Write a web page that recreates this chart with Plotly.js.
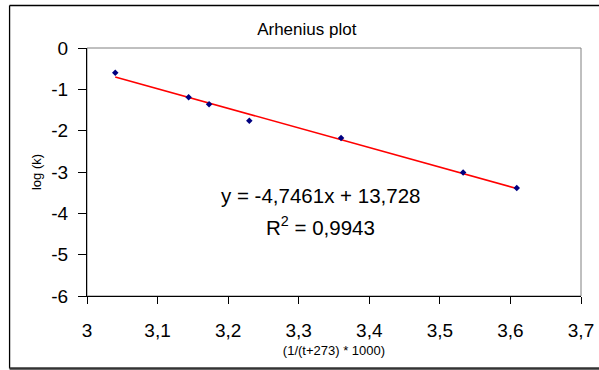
<!DOCTYPE html>
<html>
<head>
<meta charset="utf-8">
<script src="https://cdn.plot.ly/plotly-3.0.1.min.js"></script>
<style>
  html, body { margin: 0; padding: 0; background: #ffffff; }
  #chart { width: 599px; height: 370px; }
</style>
</head>
<body>
<div id="chart"></div>
<script>
// Measured data (x = 1/(t+273)*1000, y = log(k))
const invTemp = [3.040, 3.144, 3.173, 3.230, 3.360, 3.533, 3.609];
const logK    = [-0.60, -1.19, -1.36, -1.76, -2.18, -3.01, -3.39];

// Trendline end points as drawn in the chart
const fitX = [3.040, 3.609];
const fitY = [-0.70, -3.40];

// Tick labels
const xTickVals = [3, 3.1, 3.2, 3.3, 3.4, 3.5, 3.6, 3.7];
const xTickText = ['3', '3,1', '3,2', '3,3', '3,4', '3,5', '3,6', '3,7'];
const yTickVals = [0, -1, -2, -3, -4, -5, -6];
const yTickText = ['0', '-1', '-2', '-3', '-4', '-5', '-6'];

const chartTitle = 'Arhenius plot';
const xTitle = '(1/(t+273) * 1000)';
const yTitle = 'log (k)';
const eqLine1 = 'y = -4,7461x + 13,728';
const eqLine2 = 'R<sup>2</sup> = 0,9943';

const FONT = 'Arial, "Liberation Sans", sans-serif';

const traces = [
  {
    x: fitX, y: fitY, type: 'scatter', mode: 'lines',
    line: { color: '#ff0000', width: 1.6 },
    hoverinfo: 'skip', showlegend: false
  },
  {
    x: invTemp, y: logK, type: 'scatter', mode: 'markers',
    marker: { symbol: 'diamond', size: 5, color: '#000080' },
    showlegend: false
  }
];

// plot area in px: x 87..581.5, y 48..296
const PW = 494.5, PH = 248;
const px = v => (v - 87) / PW;
const py = v => (296 - v) / PH;

const layout = {
  width: 599, height: 370,
  margin: { l: 87, r: 17.5, t: 48, b: 74, pad: 0 },
  paper_bgcolor: '#ffffff',
  plot_bgcolor: '#ffffff',
  font: { family: FONT, color: '#000000' },
  showlegend: false,
  title: {
    text: chartTitle,
    font: { family: FONT, size: 17, color: '#000000' },
    x: px(307), xref: 'paper', xanchor: 'center',
    y: 1 - 29 / 370, yref: 'container', yanchor: 'middle'
  },
  xaxis: {
    range: [3, 3.7],
    tickvals: xTickVals, ticktext: xTickText,
    showgrid: false, zeroline: false,
    showline: true, linecolor: '#000000', linewidth: 1,
    ticks: 'outside', ticklen: 7, tickcolor: '#000000', tickwidth: 1,
    ticklabelstandoff: 10,
    tickfont: { family: FONT, size: 19, color: '#000000' },
    title: { text: xTitle, font: { family: FONT, size: 13, color: '#000000' }, standoff: 6 }
  },
  yaxis: {
    range: [-6, 0],
    tickvals: yTickVals, ticktext: yTickText,
    showgrid: false, zeroline: false,
    showline: true, linecolor: '#000000', linewidth: 1,
    ticks: 'outside', ticklen: 8, tickcolor: '#000000', tickwidth: 1,
    ticklabelstandoff: 6,
    tickfont: { family: FONT, size: 19, color: '#000000' },
    title: { text: yTitle, font: { family: FONT, size: 13, color: '#000000' }, standoff: 6 }
  },
  annotations: [
    { text: eqLine1, xref: 'paper', yref: 'paper', x: px(321), y: py(195),
      xanchor: 'center', yanchor: 'middle', showarrow: false,
      font: { family: FONT, size: 20.5, color: '#000000' } },
    { text: eqLine2, xref: 'paper', yref: 'paper', x: px(321), y: py(226),
      xanchor: 'center', yanchor: 'middle', showarrow: false,
      font: { family: FONT, size: 20.5, color: '#000000' } }
  ],
  shapes: [
    // plot area frame (gray)
    { type: 'rect', xref: 'paper', yref: 'paper', x0: 0, x1: 1, y0: 0, y1: 1,
      line: { color: '#808080', width: 1 }, layer: 'below' },
    // outer chart frame
    { type: 'line', xref: 'paper', yref: 'paper', x0: px(9.5), x1: px(610), y0: py(5.5), y1: py(5.5),
      line: { color: '#000000', width: 1.3 } },
    { type: 'line', xref: 'paper', yref: 'paper', x0: px(9.5), x1: px(9.5), y0: py(5.5), y1: py(368.5),
      line: { color: '#000000', width: 1.3 } },
    { type: 'line', xref: 'paper', yref: 'paper', x0: px(9.5), x1: px(610), y0: py(368.5), y1: py(368.5),
      line: { color: '#333333', width: 2.5 } }
  ]
};

Plotly.newPlot('chart', traces, layout, { staticPlot: true, displayModeBar: false });
</script>
</body>
</html>
